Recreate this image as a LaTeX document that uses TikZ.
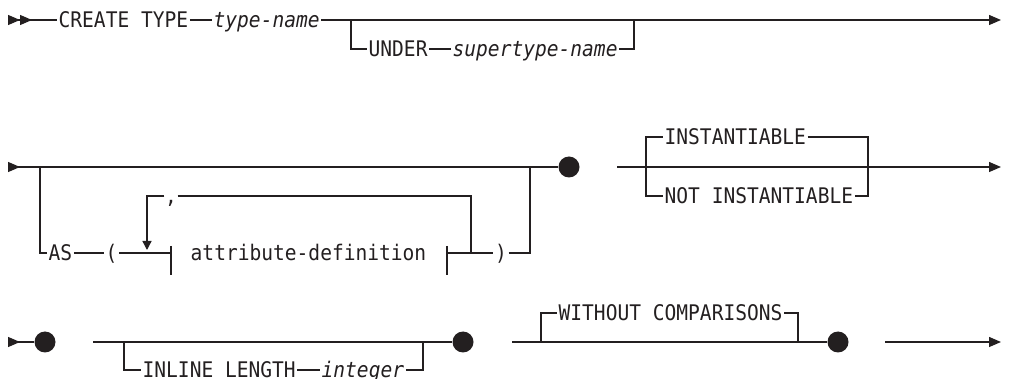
\documentclass[tikz,border=0pt]{standalone}
\usepackage{fontspec}
\newfontfamily\railfont[FakeStretch=0.91]{DejaVu Sans Mono}
\usepackage{xcolor}
\usepackage{tikz}
\usetikzlibrary{positioning, arrows.meta, calc}

\definecolor{ink}{HTML}{231F20}

\begin{document}
\begin{tikzpicture}[x=1pt, y=-1pt, line width=1.3pt, draw=ink]
    % Styles
    \tikzstyle{kw} = [inner xsep=1pt, inner ysep=0pt, text height=15.6pt, text depth=0pt, text=ink, font=\railfont\fontsize{21.5pt}{24pt}\selectfont]
    \tikzstyle{var} = [kw, font=\railfont\itshape\fontsize{21.5pt}{24pt}\selectfont]
    \tikzstyle{dot} = [circle, fill=ink, inner sep=0pt, minimum size=21pt]
    \tikzstyle{arrow} = [-{Triangle[length=12pt, width=10pt]}]
    \tikzstyle{lead} = [{Triangle[reversed, length=12pt, width=10pt]}-]
    \tikzstyle{leadtwo} = [{Triangle[reversed, length=12pt, width=10pt]Triangle[reversed, length=12pt, width=10pt]}-]
    \tikzstyle{back} = [-{Triangle[length=9pt, width=9pt]}]

    \useasboundingbox (0,0) rectangle (1015,379);

    % First line
    \coordinate (r1in) at (8,20);
    \coordinate (r1out) at (1001,20);
    \node (create) [kw, anchor=west] at (57,20) {CREATE TYPE};
    \node (tname) [var, anchor=west] at (212,20) {type-name};
    \coordinate (r1a) at (351,20);
    \coordinate (r1b) at (634,20);
    \node (under) [kw, anchor=west] at (367,49) {UNDER};
    \node (stname) [var, anchor=west] at (451,49) {supertype-name};

    \draw [leadtwo] (r1in) -- (create.west);
    \draw (create.east) -- (tname.west);
    \draw [arrow] (tname.east) -- (r1out);
    \draw (r1a) |- (under.west);
    \draw (under.east) -- (stname.west);
    \draw (stname.east) -| (r1b);

    % Second line
    \coordinate (r2in) at (8,167);
    \node (d1) [dot] at (569,167) {};
    \coordinate (r2a) at (40,167);
    \coordinate (r2b) at (530,167);
    \node (as) [kw, anchor=west] at (47,253) {AS};
    \node (lpar) [kw, anchor=west] at (104,253) {(};
    \coordinate (tickl) at (171,253);
    \node (attr) [kw] at (308.5,253) {attribute-definition};
    \coordinate (tickr) at (447,253);
    \node (rpar) [kw] at (501,253) {)};
    \node (comma) [kw, inner xsep=0pt] at (171,196) {,};
    \coordinate (loopd) at (147,250);
    \coordinate (loopj) at (471,253);

    \draw [lead] (r2in) -- (d1);
    \draw (r2a) |- (as.west);
    \draw (as.east) -- (lpar.west);
    \draw (lpar.east) -- (tickl);
    \draw ([yshift=7pt]tickl) -- ([yshift=-22pt]tickl);
    \draw ([yshift=7pt]tickr) -- ([yshift=-22pt]tickr);
    \draw (tickr) -- (rpar.west);
    \draw (rpar.east) -| (r2b);
    \draw (comma.east) -| (loopj);
    \draw [back] (comma.west) -| (loopd);

    \coordinate (r2c) at (617,167);
    \coordinate (r2out) at (1001,167);
    \coordinate (r2d) at (646,167);
    \coordinate (r2e) at (868,167);
    \node (inst) [kw, anchor=west] at (663,137) {INSTANTIABLE};
    \node (ninst) [kw, anchor=west] at (663,196) {NOT INSTANTIABLE};

    \draw [arrow] (r2c) -- (r2out);
    \draw (r2d) |- (inst.west);
    \draw (inst.east) -| (r2e);
    \draw (r2d) |- (ninst.west);
    \draw (ninst.east) -| (r2e);

    % Third line
    \coordinate (r3in) at (8,342);
    \node (d2) [dot] at (45,342) {};
    \coordinate (r3a) at (93,342);
    \node (d3) [dot] at (463,342) {};
    \coordinate (r3b) at (124,342);
    \coordinate (r3c) at (423,342);
    \node (inline) [kw, anchor=west] at (141,370) {INLINE LENGTH};
    \node (int) [var, anchor=west] at (320,370) {integer};

    \draw [lead] (r3in) -- (d2);
    \draw (r3a) -- (d3);
    \draw (r3b) |- (inline.west);
    \draw (inline.east) -- (int.west);
    \draw (int.east) -| (r3c);

    \coordinate (r3d) at (512,342);
    \node (d4) [dot] at (838,342) {};
    \coordinate (r3e) at (541,342);
    \coordinate (r3f) at (798,342);
    \node (woc) [kw, anchor=west] at (557,313) {WITHOUT COMPARISONS};
    \coordinate (r3g) at (885,342);
    \coordinate (r3out) at (1001,342);

    \draw (r3d) -- (d4);
    \draw (r3e) |- (woc.west);
    \draw (woc.east) -| (r3f);
    \draw [arrow] (r3g) -- (r3out);

\end{tikzpicture}
\end{document}
